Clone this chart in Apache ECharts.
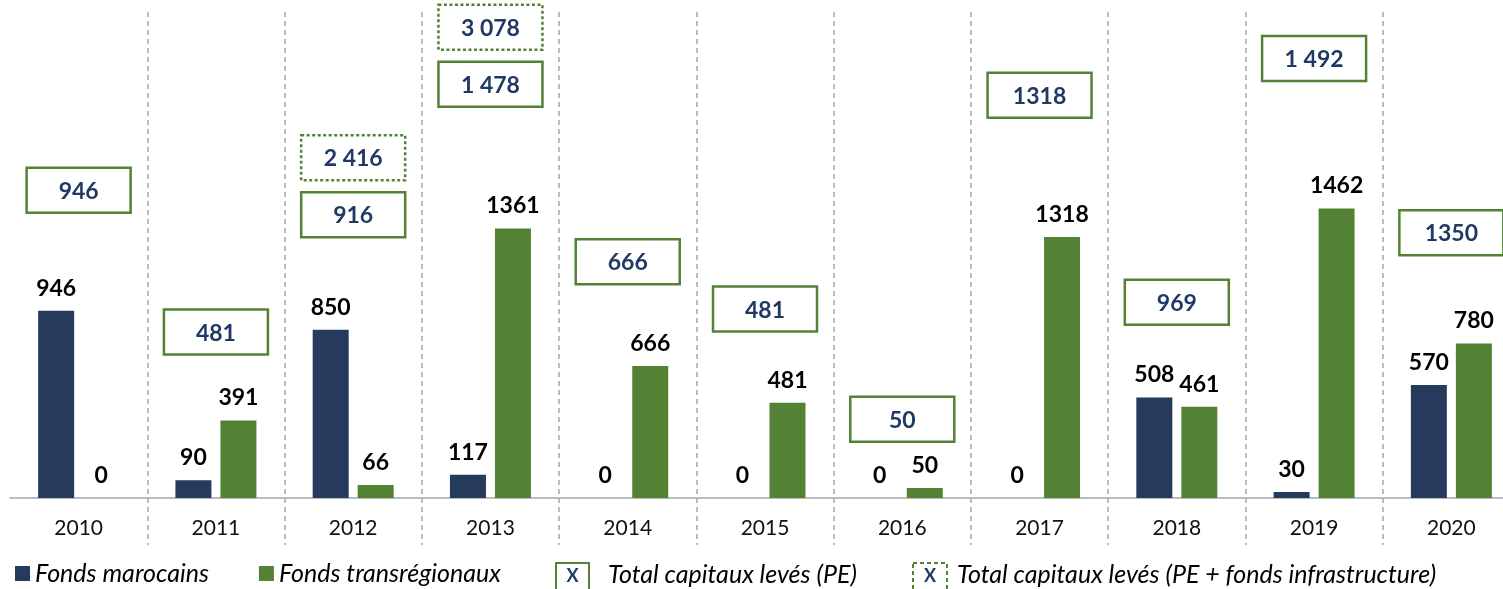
<!DOCTYPE html>
<html>
<head>
<meta charset="utf-8">
<script src="https://cdn.jsdelivr.net/npm/echarts@6/dist/echarts.min.js"></script>
<style>
html,body{margin:0;padding:0;background:#fff;}
#c{width:1503px;height:589px;}
</style>
</head>
<body>
<div id="c"></div>
<script>
const years = ['2010','2011','2012','2013','2014','2015','2016','2017','2018','2019','2020'];
const fondsMarocains = [946, 90, 850, 117, 0, 0, 0, 0, 508, 30, 570];
const fondsTransregionaux = [0, 391, 66, 1361, 666, 481, 50, 1318, 461, 1462, 780];
const totalPE = [946, 481, 916, 1478, 666, 481, 50, 1318, 969, 1492, 1350];
const totalPELabels = ['946', '481', '916', '1 478', '666', '481', '50', '1318', '969', '1 492', '1350'];
const totalInfra = [null, null, 2416, 3078, null, null, null, null, null, null, null];
const totalInfraLabels = ['', '', '2 416', '3 078', '', '', '', '', '', '', ''];

const NAVY = '#263A5E';
const GREEN = '#548235';
const BOXTEXT = '#203864';
const FONT = 'Lato, "Open Sans", sans-serif';

function boxCenter(api, i, maxBar) {
  const base = api.coord([i, 0]);
  const top = api.coord([i, maxBar]);
  const h = base[1] - top[1];
  return [base[0], base[1] - (1.29 * h + 66)];
}

function makeBoxRenderer(labels, dotted) {
  return function (params, api) {
    const i = api.value(0);
    const maxBar = api.value(2);
    const c = boxCenter(api, i, maxBar);
    let cy = c[1];
    if (dotted) cy -= 57;
    const w = 104, h = 45;
    return {
      type: 'group',
      children: [
        {
          type: 'rect',
          shape: { x: c[0] - w / 2, y: cy - h / 2, width: w, height: h },
          style: { fill: '#fff', stroke: GREEN, lineWidth: 2.5, lineDash: dotted ? [3, 2.5] : null }
        },
        {
          type: 'text',
          style: {
            text: labels[i], x: c[0], y: cy + 1, align: 'center', verticalAlign: 'middle',
            font: 'bold 23px ' + FONT, fill: BOXTEXT
          }
        }
      ]
    };
  };
}

const peData = totalPE.map((v, i) => [i, v, Math.max(fondsMarocains[i], fondsTransregionaux[i])]);
const infraData = totalInfra.map((v, i) => v == null ? null : [i, v, Math.max(fondsMarocains[i], fondsTransregionaux[i])]).filter(d => d);

const chart = echarts.init(document.getElementById('c'), null, { renderer: 'canvas' });
const barLabel = {
  show: true, position: 'top', distance: 11,
  fontFamily: FONT, fontWeight: 'bold', fontSize: 23, color: '#000'
};
chart.setOption({
  animation: false,
  grid: { left: 10, right: -17, top: 12, bottom: 91, outerBoundsMode: 'none', containLabel: false },
  xAxis: {
    type: 'category',
    data: years,
    axisLine: { lineStyle: { color: '#A6A6A6', width: 1.5 } },
    axisTick: {
      show: true, length: 47,
      interval: function (idx) { return idx !== 0; },
      lineStyle: { color: '#A6A6A6', width: 1.5, type: [5, 4] }
    },
    splitLine: {
      show: true,
      interval: function (idx) { return idx !== 0; },
      lineStyle: { color: '#A6A6A6', width: 1.5, type: [5, 4] }
    },
    axisLabel: { fontFamily: FONT, fontSize: 21, color: '#111', margin: 20 }
  },
  yAxis: { type: 'value', min: 0, max: 2454, show: false, splitLine: { show: false } },
  legend: {
    left: 10, top: 555,
    icon: 'rect', itemWidth: 15, itemHeight: 15, itemGap: 50,
    data: ['Fonds marocains', 'Fonds transrégionaux'],
    textStyle: { fontFamily: FONT, fontStyle: 'italic', fontSize: 25, lineHeight: 27, color: '#000' }
  },
  graphic: [
    { type: 'rect', shape: { x: 556, y: 563, width: 33, height: 28 }, style: { fill: '#fff', stroke: GREEN, lineWidth: 2 } },
    { type: 'text', style: { text: 'X', x: 572.5, y: 576, align: 'center', verticalAlign: 'middle', font: 'bold 18px ' + FONT, fill: BOXTEXT } },
    { type: 'text', style: { text: 'Total capitaux levés (PE)', x: 608, y: 575, verticalAlign: 'middle', font: 'italic 25px ' + FONT, fill: '#000' } },
    { type: 'rect', shape: { x: 913, y: 563, width: 34, height: 28 }, style: { fill: '#fff', stroke: GREEN, lineWidth: 2, lineDash: [4, 3] } },
    { type: 'text', style: { text: 'X', x: 930, y: 576, align: 'center', verticalAlign: 'middle', font: 'bold 18px ' + FONT, fill: BOXTEXT } },
    { type: 'text', style: { text: 'Total capitaux levés (PE + fonds infrastructure)', x: 957, y: 575, verticalAlign: 'middle', font: 'italic 25px ' + FONT, fill: '#000' } }
  ],
  series: [
    {
      name: 'Fonds marocains', type: 'bar', data: fondsMarocains,
      barWidth: 36, barGap: '25%',
      itemStyle: { color: NAVY }, label: barLabel
    },
    {
      name: 'Fonds transrégionaux', type: 'bar', data: fondsTransregionaux,
      barWidth: 36, barGap: '25%',
      itemStyle: { color: GREEN }, label: barLabel
    },
    {
      name: 'Total capitaux levés (PE)', type: 'custom', data: peData,
      renderItem: makeBoxRenderer(totalPELabels, false), clip: false, z: 5
    },
    {
      name: 'Total capitaux levés (PE + fonds infrastructure)', type: 'custom', data: infraData,
      renderItem: makeBoxRenderer(totalInfraLabels, true), clip: false, z: 5
    }
  ]
});
</script>
</body>
</html>
